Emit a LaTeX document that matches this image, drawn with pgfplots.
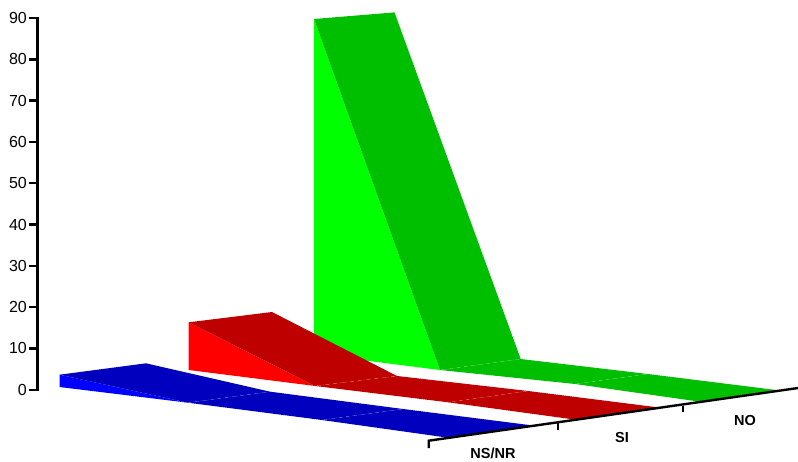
\documentclass[border=0pt]{standalone}
\usepackage{pgfplots}
\pgfplotsset{compat=1.18}
\usepackage{fontspec}
\setmainfont{Liberation Sans}
\definecolor{bd}{HTML}{0000BE}
\definecolor{bl}{HTML}{0000FF}
\definecolor{rd}{HTML}{BE0000}
\definecolor{rl}{HTML}{FF0000}
\definecolor{gd}{HTML}{00BE00}
\definecolor{gl}{HTML}{00FF00}
\begin{document}
\begin{tikzpicture}[x=1pt,y=1pt]
\useasboundingbox (0,0) rectangle (798,461);
\begin{axis}[
  at={(37pt,71.3pt)}, anchor=south west,
  x=1pt, y=4.13pt,
  xmin=37, xmax=798, ymin=0, ymax=90,
  clip=false,
  axis x line=none,
  axis y line=left,
  axis line style={-, line width=2.8pt, black, line cap=rect},
  ytick={0,10,...,90},
  tick align=outside,
  major tick length=8pt,
  ytick style={line width=2.4pt, black},
  yticklabel style={font=\fontsize{16}{16}\selectfont, /pgf/number format/assume math mode=true, inner sep=1pt, xshift=-1pt},
  every axis plot/.append style={mark=none, forget plot},
]
% NO
\addplot[fill=gl, draw=none] coordinates {(314,89.76) (440,4.77) (314,8.64)} -- cycle;
\addplot[fill=gd, draw=none] coordinates {(314,89.76) (394.5,91.36) (520.7,7.43) (440,4.77)} -- cycle;
\addplot[fill=gd, draw=none] coordinates {(440,4.77) (520.7,7.43) (648,3.80) (575,1.38)} -- cycle;
\addplot[fill=gd, draw=none] coordinates {(575,1.38) (648,3.80) (781.7,-0.24) (700,-2.91)} -- cycle;
\addplot[white, opacity=0.2, line width=0.5pt, dashed] coordinates {(440,4.77) (520.7,7.43)};
\addplot[white, opacity=0.2, line width=0.5pt, dashed] coordinates {(575,1.38) (648,3.80)};
% SI
\addplot[fill=rl, draw=none] coordinates {(188.7,16.32) (315,0.90) (188.7,4.77)} -- cycle;
\addplot[fill=rd, draw=none] coordinates {(188.7,16.32) (272,18.81) (397,3.32) (315,0.90)} -- cycle;
\addplot[fill=rd, draw=none] coordinates {(315,0.90) (397,3.32) (528,-0.31) (448,-3.05)} -- cycle;
\addplot[fill=rd, draw=none] coordinates {(448,-3.05) (528,-0.31) (663,-4.43) (578,-7.34)} -- cycle;
\addplot[white, opacity=0.2, line width=0.5pt, dashed] coordinates {(315,0.90) (397,3.32)};
\addplot[white, opacity=0.2, line width=0.5pt, dashed] coordinates {(448,-3.05) (528,-0.31)};
% NS/NR
\addplot[fill=bl, draw=none] coordinates {(59.5,3.63) (188,-3.15) (59.5,0.65)} -- cycle;
\addplot[fill=bd, draw=none] coordinates {(59.5,3.63) (146,6.39) (270,-0.48) (188,-3.15)} -- cycle;
\addplot[fill=bd, draw=none] coordinates {(188,-3.15) (270,-0.48) (403,-4.67) (322,-7.34)} -- cycle;
\addplot[fill=bd, draw=none] coordinates {(322,-7.34) (403,-4.67) (537,-8.79) (450,-11.69)} -- cycle;
\addplot[white, opacity=0.2, line width=0.5pt, dashed] coordinates {(188,-3.15) (270,-0.48)};
\addplot[white, opacity=0.2, line width=0.5pt, dashed] coordinates {(322,-7.34) (403,-4.67)};
% value axis line, reinforced
\addplot[black, line width=3pt, line cap=rect] coordinates {(37,0) (37,90)};
% category axis
\addplot[black, line width=2.4pt] coordinates {(428.7,-14.12) (428.7,-12.35) (798,0.41)};
\addplot[black, line width=2.4pt] coordinates {(558,-8.14) (558,-9.76)};
\addplot[black, line width=2.4pt] coordinates {(683,-3.87) (683,-5.40)};
\node[font=\fontsize{14.5}{14.5}\selectfont\bfseries] at (axis cs:493,-15.5) {NS/NR};
\node[font=\fontsize{14.5}{14.5}\selectfont\bfseries] at (axis cs:622,-11.6) {SI};
\node[font=\fontsize{14.5}{14.5}\selectfont\bfseries] at (axis cs:745,-7.45) {NO};
\end{axis}
\end{tikzpicture}
\end{document}
